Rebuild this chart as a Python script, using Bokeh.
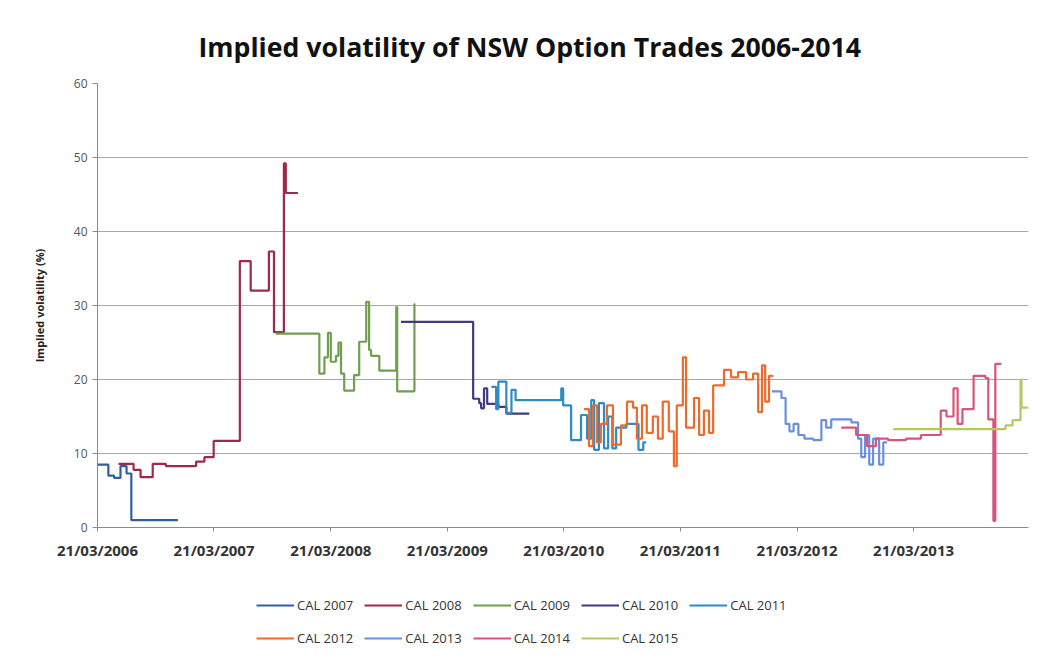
import pandas as pd
from bokeh.plotting import figure
from bokeh.layouts import column
from bokeh.models import (Range1d, FixedTicker, DatetimeTickFormatter, Legend, LegendItem)
from bokeh.embed import file_html
from bokeh.resources import INLINE

# ---------------- data ----------------
series_names = ["CAL 2007", "CAL 2008", "CAL 2009", "CAL 2010", "CAL 2011",
                "CAL 2012", "CAL 2013", "CAL 2014", "CAL 2015"]

cal2007_dates = ["2006-03-21", "2006-04-24", "2006-05-12", "2006-06-01", "2006-06-20",
                 "2006-07-05", "2006-11-28"]
cal2007_vals = [8.5, 7.0, 6.7, 8.3, 7.3, 1.0, 1.0]

cal2008_dates = ["2006-05-26", "2006-07-12", "2006-08-03", "2006-09-10", "2006-10-21",
                 "2007-01-24", "2007-02-19", "2007-03-20", "2007-06-10", "2007-07-14",
                 "2007-09-09", "2007-09-25", "2007-10-26", "2007-11-01", "2007-12-09"]
cal2008_vals = [8.6, 7.8, 6.8, 8.6, 8.3, 8.9, 9.5, 11.7, 36.0, 32.0, 37.3, 26.4, 49.2, 45.2, 45.2]

cal2009_dates = ["2007-10-01", "2008-02-14", "2008-03-01", "2008-03-12", "2008-03-21",
                 "2008-04-06", "2008-04-14", "2008-04-22", "2008-05-02", "2008-06-02",
                 "2008-06-18", "2008-07-10", "2008-07-19", "2008-07-25", "2008-08-20",
                 "2008-10-12", "2008-10-15", "2008-12-08", "2008-12-10"]
cal2009_vals = [26.2, 20.8, 23.0, 26.3, 22.4, 23.2, 25.0, 20.8, 18.5, 20.6,
                25.1, 30.5, 24.0, 23.2, 21.2, 29.8, 18.4, 30.2, 30.2]

cal2010_dates = ["2008-10-27", "2009-06-10", "2009-06-29", "2009-07-05", "2009-07-14",
                 "2009-07-24", "2009-08-28", "2009-09-22", "2009-12-03"]
cal2010_vals = [27.8, 17.4, 16.8, 16.1, 18.8, 16.7, 16.3, 15.4, 15.4]

cal2011_dates = ["2009-08-06", "2009-08-21", "2009-08-28", "2009-09-22", "2009-10-08",
                 "2009-10-21", "2010-03-13", "2010-03-19", "2010-04-13", "2010-05-14",
                 "2010-06-02", "2010-06-15", "2010-06-24", "2010-07-09", "2010-07-25",
                 "2010-08-07", "2010-08-20", "2010-09-01", "2010-10-03", "2010-11-10",
                 "2010-11-25", "2010-12-04"]
cal2011_vals = [19.0, 16.0, 19.7, 15.5, 18.6, 17.2, 18.8, 16.5, 11.8, 15.2,
                12.0, 17.2, 10.5, 16.8, 10.7, 15.0, 10.7, 13.5, 14.0, 10.5,
                11.5, 11.5]

cal2012_dates = ["2010-05-23", "2010-06-08", "2010-06-20", "2010-07-03", "2010-07-15",
                 "2010-08-03", "2010-08-22", "2010-09-16", "2010-10-05", "2010-10-24",
                 "2010-11-05", "2010-11-21", "2010-12-06", "2010-12-25", "2011-01-10",
                 "2011-01-25", "2011-02-13", "2011-03-01", "2011-03-10", "2011-03-29",
                 "2011-04-08", "2011-05-03", "2011-05-19", "2011-06-03", "2011-06-19",
                 "2011-07-02", "2011-08-05", "2011-08-27", "2011-09-18", "2011-10-13",
                 "2011-11-04", "2011-11-20", "2011-12-02", "2011-12-12", "2011-12-24",
                 "2012-01-06"]
cal2012_vals = [16.0, 11.0, 16.5, 11.5, 14.0, 16.5, 11.2, 13.8, 17.0, 16.2,
                12.0, 16.5, 12.8, 15.0, 12.0, 17.0, 13.0, 8.3, 16.5, 23.0,
                13.5, 17.5, 12.5, 15.8, 12.8, 19.2, 21.3, 20.3, 21.0, 20.0,
                20.8, 15.6, 21.9, 17.0, 20.5, 20.5]

cal2013_dates = ["2012-01-02", "2012-02-01", "2012-02-14", "2012-02-26", "2012-03-10",
                 "2012-03-25", "2012-04-13", "2012-05-11", "2012-06-05", "2012-06-20",
                 "2012-07-06", "2012-09-07", "2012-09-28", "2012-10-08", "2012-10-20",
                 "2012-11-02", "2012-11-14", "2012-12-03", "2012-12-16", "2012-12-28"]
cal2013_vals = [18.4, 17.5, 14.0, 13.0, 14.0, 12.5, 12.0, 11.8, 14.5, 13.5,
                14.6, 14.2, 12.0, 9.5, 12.5, 8.5, 12.0, 8.5, 11.5, 11.5]

cal2014_dates = ["2012-08-06", "2012-09-22", "2012-10-26", "2012-11-23", "2012-12-31",
                 "2013-02-25", "2013-04-13", "2013-06-14", "2013-07-02", "2013-07-24",
                 "2013-08-06", "2013-08-21", "2013-09-25", "2013-11-01", "2013-11-10",
                 "2013-11-26", "2013-12-02", "2013-12-21"]
cal2014_vals = [13.5, 12.5, 11.0, 12.0, 11.8, 12.0, 12.5, 15.8, 15.0, 18.8,
                14.0, 16.0, 20.5, 20.2, 14.6, 0.9, 22.1, 22.1]

cal2015_dates = ["2013-01-16", "2013-12-19", "2014-01-03", "2014-01-25", "2014-02-19",
                 "2014-02-22", "2014-03-16"]
cal2015_vals = [13.3, 13.3, 13.8, 14.5, 20.0, 16.2, 16.2]

series_colors = ["#2f5f9f", "#9e2a4a", "#6f9f4f", "#413a7e", "#2f8ac0",
                 "#ec6a2c", "#6a8fdc", "#d8557a", "#b7c765"]

tick_labels_dates = ["2006-03-21", "2007-03-21", "2008-03-21", "2009-03-21",
                     "2010-03-21", "2011-03-21", "2012-03-21", "2013-03-21"]

all_dates = [cal2007_dates, cal2008_dates, cal2009_dates, cal2010_dates, cal2011_dates,
             cal2012_dates, cal2013_dates, cal2014_dates, cal2015_dates]
all_vals = [cal2007_vals, cal2008_vals, cal2009_vals, cal2010_vals, cal2011_vals,
            cal2012_vals, cal2013_vals, cal2014_vals, cal2015_vals]

# ---------------- main figure ----------------
FONT = "Open Sans"
p = figure(width=1034, height=562, x_axis_type="datetime",
           x_range=Range1d(pd.Timestamp("2006-03-21"), pd.Timestamp("2014-03-16")),
           y_range=Range1d(0, 60),
           output_backend="svg", toolbar_location=None,
           min_border_left=97, min_border_right=6, min_border_top=83,
           min_border_bottom=32,
           title="Implied volatility of NSW Option Trades 2006-2014")

p.title.align = "left"
p.title.offset = 101
p.title.standoff = 37
p.title.text_font = FONT
p.title.text_font_size = "26.7px"
p.title.text_font_style = "bold"
p.title.text_color = "#111111"

p.outline_line_color = None
p.xgrid.grid_line_color = None
p.ygrid.grid_line_color = "#a8a8a8"
p.ygrid.grid_line_width = 1.2
p.ygrid.ticker = FixedTicker(ticks=[10, 20, 30, 40, 50, 60])

p.yaxis.ticker = FixedTicker(ticks=[0, 10, 20, 30, 40, 50, 60])
p.yaxis.axis_label = "Implied volatility (%)"
p.yaxis.axis_label_text_font = FONT
p.yaxis.axis_label_text_font_size = "11px"
p.yaxis.axis_label_text_font_style = "bold"
p.yaxis.axis_label_text_color = "#222222"
p.yaxis.axis_label_standoff = 24
p.yaxis.major_label_text_font = FONT
p.yaxis.major_label_text_font_size = "12px"
p.yaxis.major_label_text_color = "#555555"
p.yaxis.axis_line_color = "#8a8a8a"
p.yaxis.major_tick_line_color = "#8a8a8a"
p.yaxis.major_tick_out = 5
p.yaxis.major_tick_in = 0
p.yaxis.minor_tick_line_color = None

tick_ms = [pd.Timestamp(d).value // 10**6 for d in tick_labels_dates]
p.xaxis.ticker = FixedTicker(ticks=tick_ms)
fmt = "%d/%m/%Y"
p.xaxis.formatter = DatetimeTickFormatter(days=fmt, months=fmt, years=fmt, hours=fmt,
                                          minutes=fmt, seconds=fmt, milliseconds=fmt,
                                          microseconds=fmt, minsec=fmt, hourmin=fmt)
p.xaxis.major_label_text_font = FONT
p.xaxis.major_label_text_font_size = "15px"
p.xaxis.major_label_text_font_style = "bold"
p.xaxis.major_label_text_color = "#333333"
p.xaxis.axis_line_color = "#8a8a8a"
p.xaxis.major_tick_line_color = "#8a8a8a"
p.xaxis.major_tick_out = 4
p.xaxis.major_tick_in = 0
p.xaxis.minor_tick_line_color = None
p.xaxis.major_label_standoff = 8

for d, v, c in zip(all_dates, all_vals, series_colors):
    p.step(pd.to_datetime(d), v, mode="after", line_color=c, line_width=2.2)

# ---------------- legend strip (second figure, same series styling) ----------------
p2 = figure(width=1034, height=96, x_range=Range1d(0, 1), y_range=Range1d(0, 1),
            x_axis_location=None, y_axis_location=None,
            output_backend="svg", toolbar_location=None,
            min_border_left=0, min_border_right=0, min_border_top=0, min_border_bottom=0)
p2.grid.visible = False
p2.outline_line_color = None

# single-point lines: nothing is drawn in the strip, they only carry the legend styling
legend_renderers = [p2.line([0], [0], line_color=c, line_width=2.2) for c in series_colors]

def make_legend(idx, y):
    return Legend(items=[LegendItem(label=series_names[i], renderers=[legend_renderers[i]])
                         for i in idx],
                  orientation="horizontal", location=(159, y),
                  label_text_font=FONT, label_text_font_size="13px",
                  label_text_color="#333333", glyph_width=38, glyph_height=20,
                  label_standoff=3, spacing=11, padding=2, margin=0,
                  border_line_color=None, background_fill_alpha=0)

p2.add_layout(make_legend([0, 1, 2, 3, 4], 43), "center")
p2.add_layout(make_legend([5, 6, 7, 8], 10), "center")

layout = column(p, p2, spacing=0)
open("out.html", "w").write(file_html(layout, INLINE))
